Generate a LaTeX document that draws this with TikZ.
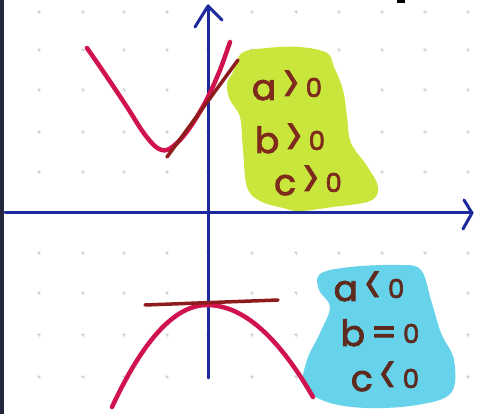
\documentclass[tikz,border=0pt]{standalone}
\usepackage{fontspec}
\setmainfont{Poppins}[FakeBold=2.5,AutoFakeBold=2.5]
\definecolor{axisblue}{HTML}{1C2A9E}
\definecolor{curvered}{HTML}{D0124E}
\definecolor{tanbrown}{HTML}{8E1C1C}
\definecolor{blobgreen}{HTML}{C9E63C}
\definecolor{blobcyan}{HTML}{66D3EA}
\definecolor{inkbrown}{HTML}{7E2A1C}
\definecolor{inkdark}{HTML}{5E2A1E}
\definecolor{dotgray}{HTML}{C4C8D2}
\definecolor{edge}{HTML}{23263A}
\newcommand\cndrel[3]{\bfseries #1\hspace{6pt}\raisebox{-3pt}{\scalebox{0.9}[1.5]{#2}}\hspace{6pt}\raisebox{3pt}{\fontsize{26}{26}\selectfont #3}}
\newcommand\cndeq[3]{\bfseries #1\hspace{6pt}\raisebox{1pt}{#2}\hspace{6pt}\raisebox{3pt}{\fontsize{26}{26}\selectfont #3}}
\tikzset{
  axisline/.style={axisblue, line width=3pt, line cap=round, line join=round},
  curve/.style={curvered, line width=4.5pt, line cap=round, line join=round},
  tangent/.style={tanbrown, line width=3.5pt, line cap=round},
  cond/.style={inkbrown, font=\fontsize{36}{36}\selectfont, anchor=base, inner sep=0pt},
  conddark/.style={cond, text=inkdark},
  griddot/.style={dotgray, line width=0.5pt}
}
\begin{document}
\begin{tikzpicture}[x=1pt,y=-1pt]
\useasboundingbox (0,0) rectangle (480,414);
\fill[white] (0,0) rectangle (480,414);
\fill[edge] (0,0) rectangle (4,414);
% grid dots
\foreach \gx in {39,83,124,167,208,252,296,339,382,425,468}{
  \foreach \gy in {12,50,90,132,172,253,293,335,377}{
    \draw[griddot] (\gx-1.8,\gy) -- (\gx+1.8,\gy) (\gx,\gy-1.8) -- (\gx,\gy+1.8)
      (\gx-1.3,\gy-1.3) -- (\gx+1.3,\gy+1.3);
  }
}
% top-right cut-off mark
\fill[black] (397,0) rectangle (405,3);
% blobs
\fill[blobgreen] plot[smooth cycle, tension=0.6] coordinates {
  (233,72) (242,53) (267,48) (300,47) (327,53) (334,67) (343,90) (347,117)
  (351,143) (367,166) (378,187) (370,201) (333,207) (300,211) (283,208)
  (260,201) (247,187) (243,150) (240,117) (230,100) (227,84)};
\fill[blobcyan] plot[smooth cycle, tension=0.6] coordinates {
  (320,274) (350,267) (400,265) (421,270) (431,300) (441,333) (454,360)
  (451,393) (417,405) (367,408) (327,402) (304,386) (307,360) (320,333)
  (330,307) (319,290)};
% axes
\coordinate (xl) at (5,213);
\coordinate (xr) at (472,213);
\coordinate (yb) at (208,378);
\coordinate (yt) at (208,6);
\draw[axisline] (xl) -- (xr);
\draw[axisline] (yb) -- (yt);
\draw[axisline] (464,200) -- (xr) -- (463,229);
\draw[axisline] (195,27) -- (yt) -- (222,20);
% upper parabola and tangent
\draw[curve] plot[smooth, tension=0.55] coordinates {
  (87,48) (107,77) (127,107) (143,132) (156,147) (167,150) (180,140)
  (193,123) (207,99) (220,70) (230,42)};
\coordinate (ta) at (167,157);
\coordinate (tb) at (238,60);
\draw[tangent] (ta) -- (tb);
% lower parabola and tangent
\draw[curve] plot[domain=112:207, samples=30] (\x,{305+0.0113*(\x-207)^2})
  -- plot[domain=207:313, samples=30] (\x,{305+0.0082*(\x-207)^2});
\coordinate (tc) at (145,305);
\coordinate (td) at (278,300);
\draw[tangent] (tc) -- (td);
% conditions
\node[cond] (ca) at (287,100) {\cndrel{a}{>}{0}};
\node[cond] (cb) at (290,153) {\cndrel{b}{>}{0}};
\node[cond] (cc) at (308,195) {\cndrel{c}{>}{0}};
\node[conddark] (da) at (369,301) {\cndrel{a}{<}{0}};
\node[conddark] (db) at (380,346) {\cndeq{b}{=}{0}};
\node[conddark] (dc) at (385,391) {\cndrel{c}{<}{0}};
\end{tikzpicture}
\end{document}
